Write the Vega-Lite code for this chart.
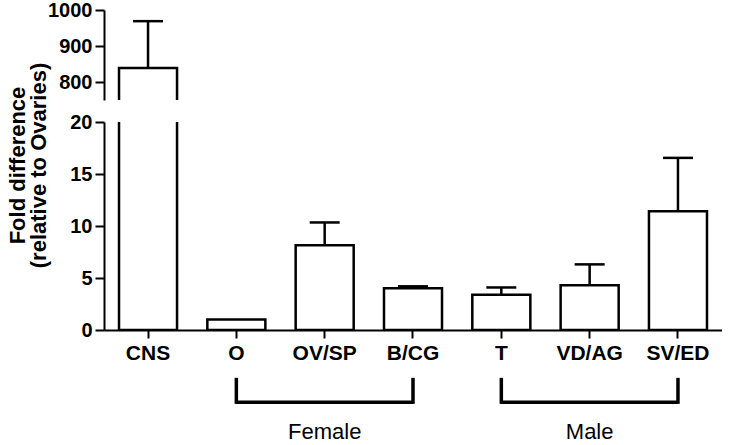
{
  "$schema": "https://vega.github.io/schema/vega-lite/v6.json",
  "padding": {"left": 5, "top": 0, "right": 0, "bottom": 0},
  "bounds": "flush",
  "spacing": 22,
  "background": "white",
  "config": {
    "view": {"stroke": null},
    "font": "Liberation Sans",
    "axis": {
      "grid": false,
      "domainColor": "black",
      "domainWidth": 2,
      "tickColor": "black",
      "tickWidth": 2,
      "labelColor": "black",
      "labelFont": "Liberation Sans",
      "labelFontWeight": "bold",
      "labelOverlap": false,
      "titleColor": "black",
      "titleFont": "Liberation Sans"
    }
  },
  "datasets": {
    "bars": [
      {"tissue": "CNS", "mean": 839, "upper": 969},
      {"tissue": "O", "mean": 1.0, "upper": null},
      {"tissue": "OV/SP", "mean": 8.15, "upper": 10.34},
      {"tissue": "B/CG", "mean": 4.02, "upper": 4.2},
      {"tissue": "T", "mean": 3.38, "upper": 4.09},
      {"tissue": "VD/AG", "mean": 4.31, "upper": 6.31},
      {"tissue": "SV/ED", "mean": 11.43, "upper": 16.55}
    ],
    "brackets": [
      {"group": "Female", "start": "O", "mid": "OV/SP", "end": "B/CG"},
      {"group": "Male", "start": "T", "mid": "VD/AG", "end": "SV/ED"}
    ]
  },
  "vconcat": [
    {
      "width": 618,
      "height": 90,
      "layer": [
        {
          "data": {"name": "bars"},
          "mark": {"type": "bar", "fill": "white", "stroke": "black", "strokeWidth": 2.5, "clip": true},
          "encoding": {
            "x": {"field": "tissue", "type": "nominal", "scale": {"domain": ["CNS", "O", "OV/SP", "B/CG", "T", "VD/AG", "SV/ED"], "paddingInner": 0.343, "paddingOuter": 0.17}, "axis": null},
            "y": {"field": "mean", "type": "quantitative", "scale": {"domain": [750, 1000], "nice": false},
              "axis": {
                "title": null,
                "values": [800, 900, 1000],
                "format": "d",
                "tickSize": 9,
                "labelFontSize": 20,
                "labelPadding": 3
              }},
            "y2": {"datum": 0}
          }
        },
        {
          "data": {"name": "bars"},
          "transform": [{"filter": "isValid(datum.upper)"}],
          "mark": {"type": "rule", "clip": true, "strokeWidth": 2.5, "color": "black"},
          "encoding": {
            "x": {"field": "tissue", "type": "nominal"},
            "y": {"field": "mean", "type": "quantitative"},
            "y2": {"field": "upper"}
          }
        },
        {
          "data": {"name": "bars"},
          "transform": [{"filter": "isValid(datum.upper)"}],
          "mark": {"type": "tick", "clip": true, "thickness": 2.5, "size": 30, "color": "black", "orient": "horizontal", "opacity": 1},
          "encoding": {
            "x": {"field": "tissue", "type": "nominal"},
            "y": {"field": "upper", "type": "quantitative"}
          }
        }
      ]
    },
    {
      "width": 618,
      "height": 208,
      "layer": [
        {
          "data": {"name": "bars"},
          "mark": {"type": "bar", "fill": "white", "stroke": "black", "strokeWidth": 2.5, "clip": true},
          "encoding": {
            "x": {"field": "tissue", "type": "nominal", "scale": {"domain": ["CNS", "O", "OV/SP", "B/CG", "T", "VD/AG", "SV/ED"], "paddingInner": 0.343, "paddingOuter": 0.17},
              "axis": {"title": null, "labelAngle": 0, "labelFontSize": 21, "labelPadding": 4, "tickSize": 8}},
            "y": {"field": "mean", "type": "quantitative", "scale": {"domain": [0, 20], "nice": false},
              "axis": {
                "title": ["Fold difference", "(relative to Ovaries)"],
                "titleFontSize": 22,
                "titleFontWeight": "bold",
                "titleLineHeight": 21,
                "titleX": -75,
                "titleY": 43,
                "values": [0, 2.5, 5, 7.5, 10, 12.5, 15, 17.5, 20],
                "labelExpr": "datum.value % 5 == 0 ? datum.label : ''",
                "tickSize": {"condition": {"test": "datum.value % 5 == 0", "value": 9}, "value": 5},
                "labelFontSize": 20,
                "labelPadding": 3
              }},
            "y2": {"datum": 0}
          }
        },
        {
          "data": {"name": "bars"},
          "transform": [{"filter": "isValid(datum.upper)"}],
          "mark": {"type": "rule", "clip": true, "strokeWidth": 2.5, "color": "black"},
          "encoding": {
            "x": {"field": "tissue", "type": "nominal"},
            "y": {"field": "mean", "type": "quantitative"},
            "y2": {"field": "upper"}
          }
        },
        {
          "data": {"name": "bars"},
          "transform": [{"filter": "isValid(datum.upper)"}],
          "mark": {"type": "tick", "clip": true, "thickness": 2.5, "size": 30, "color": "black", "orient": "horizontal", "opacity": 1},
          "encoding": {
            "x": {"field": "tissue", "type": "nominal"},
            "y": {"field": "upper", "type": "quantitative"}
          }
        },
        {
          "data": {"name": "brackets"},
          "transform": [{"fold": ["start", "end"], "as": ["side", "cat"]}],
          "mark": {"type": "rule", "strokeWidth": 3.5, "color": "black"},
          "encoding": {
            "x": {"field": "cat", "type": "nominal"},
            "y": {"datum": -4.6},
            "y2": {"datum": -7.1}
          }
        },
        {
          "data": {"name": "brackets"},
          "mark": {"type": "rule", "strokeWidth": 3.5, "color": "black"},
          "encoding": {
            "x": {"field": "start", "type": "nominal"},
            "x2": {"field": "end"},
            "y": {"datum": -6.95}
          }
        },
        {
          "data": {"name": "brackets"},
          "mark": {"type": "text", "fontSize": 22, "fontWeight": "normal", "baseline": "alphabetic", "color": "black", "font": "Liberation Sans"},
          "encoding": {
            "x": {"field": "mid", "type": "nominal"},
            "y": {"datum": -10.5},
            "text": {"field": "group"}
          }
        }
      ]
    }
  ]
}
